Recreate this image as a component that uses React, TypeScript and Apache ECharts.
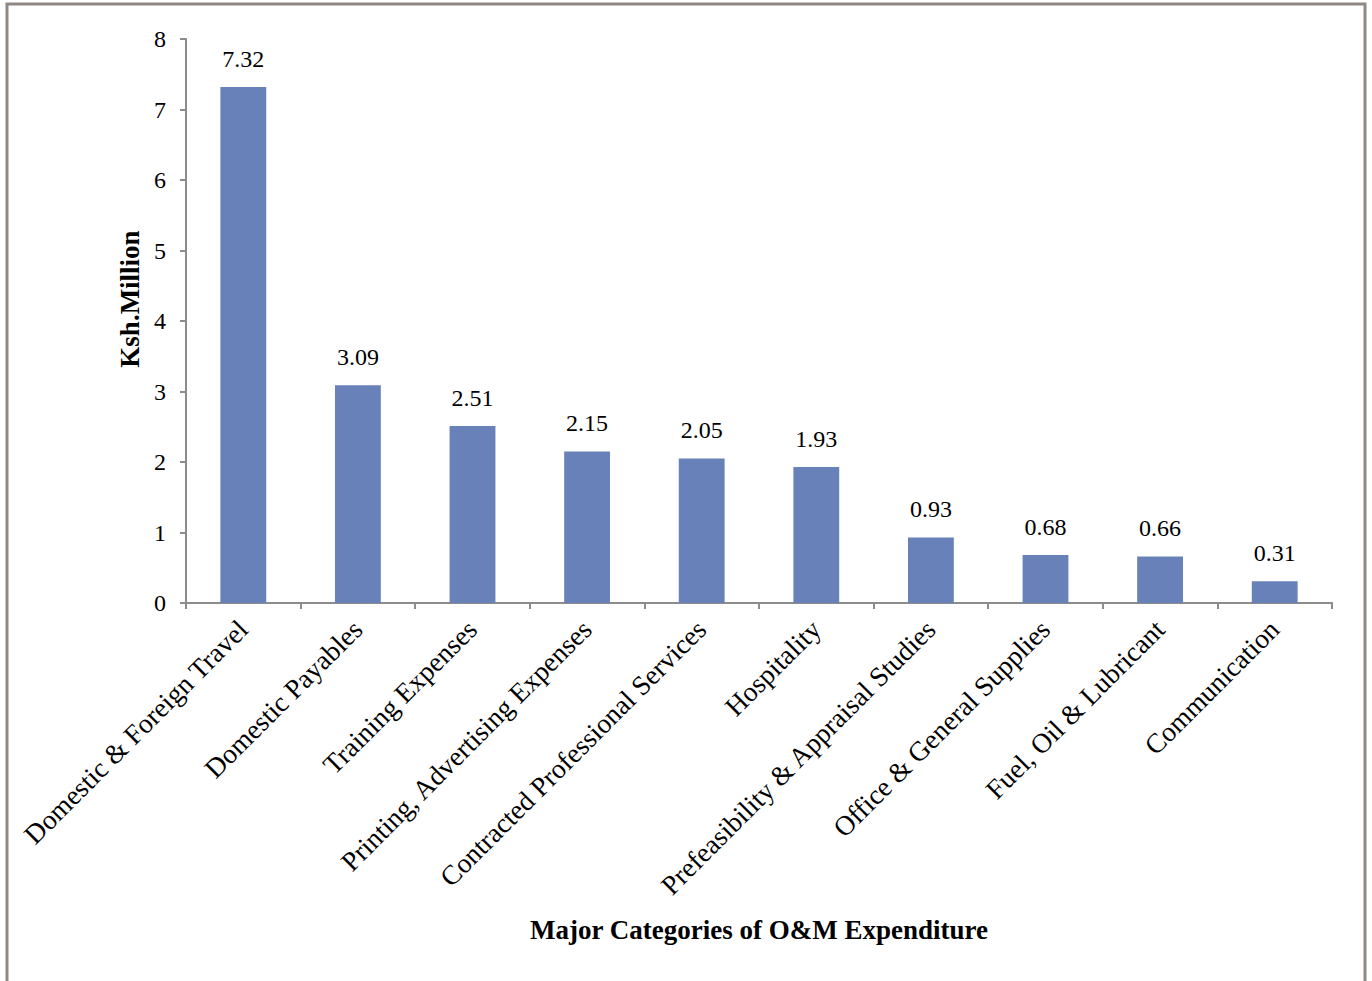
import React, { useEffect, useRef } from "react";
import * as echarts from "echarts";

const categories = [
  "Domestic & Foreign Travel",
  "Domestic Payables",
  "Training Expenses",
  "Printing, Advertising Expenses",
  "Contracted Professional Services",
  "Hospitality",
  "Prefeasibility & Appraisal Studies",
  "Office & General Supplies",
  "Fuel, Oil & Lubricant",
  "Communication",
];
const values = [7.32, 3.09, 2.51, 2.15, 2.05, 1.93, 0.93, 0.68, 0.66, 0.31];
const yTicks = [0, 1, 2, 3, 4, 5, 6, 7, 8];

const FONT = "'Liberation Serif', 'Times New Roman', serif";
const AXIS = "#8c8c8c";

export default function App() {
  const ref = useRef<HTMLDivElement>(null);
  useEffect(() => {
    document.body.style.margin = "0";
    if (!ref.current) return;
    const chart = echarts.init(ref.current, null, { renderer: "svg" });
    chart.setOption({
      animation: false,
      backgroundColor: "#ffffff",
      textStyle: { fontFamily: FONT },
      graphic: [
        {
          type: "rect",
          shape: { x: 7, y: 4, width: 1358, height: 1010 },
          style: { fill: "none", stroke: "#8f8884", lineWidth: 3 },
          silent: true,
        },
      ],
      grid: { left: 186, right: 40, top: 39, bottom: 378, containLabel: false },
      xAxis: {
        type: "category",
        data: categories,
        name: "Major Categories of O&M Expenditure",
        nameLocation: "middle",
        nameGap: 313,
        nameTextStyle: { fontFamily: FONT, fontWeight: "bold", fontSize: 27, color: "#000" },
        axisLine: { lineStyle: { color: AXIS, width: 2 } },
        axisTick: { show: true, length: 6, lineStyle: { color: AXIS, width: 2 } },
        axisLabel: {
          rotate: 45,
          interval: 0,
          margin: 22,
          fontFamily: FONT,
          fontSize: 27.5,
          color: "#000",
        },
      },
      yAxis: {
        type: "value",
        min: 0,
        max: 8,
        interval: 1,
        name: "Ksh.Million",
        nameLocation: "middle",
        nameGap: 37,
        nameTextStyle: {
          fontFamily: FONT,
          fontWeight: "bold",
          fontSize: 27,
          color: "#000",
          padding: [0, 0, 0, 44],
        },
        axisLine: { show: true, lineStyle: { color: AXIS, width: 2 } },
        axisTick: { show: true, length: 6, lineStyle: { color: AXIS, width: 2 } },
        splitLine: { show: false },
        axisLabel: {
          margin: 20,
          fontFamily: FONT,
          fontSize: 24,
          color: "#000",
          formatter: (v: number) => (yTicks.includes(v) ? String(v) : ""),
        },
      },
      series: [
        {
          type: "bar",
          data: values,
          barWidth: "40%",
          itemStyle: { color: "#6881B8" },
          label: {
            show: true,
            position: "top",
            distance: 16,
            fontFamily: FONT,
            fontSize: 24,
            color: "#000",
            formatter: (p: any) => p.value.toFixed(2),
          },
        },
      ],
    });
    return () => chart.dispose();
  }, []);
  return (
    <div
      ref={ref}
      style={{ position: "absolute", left: 0, top: 0, width: 1372, height: 981 }}
    />
  );
}
